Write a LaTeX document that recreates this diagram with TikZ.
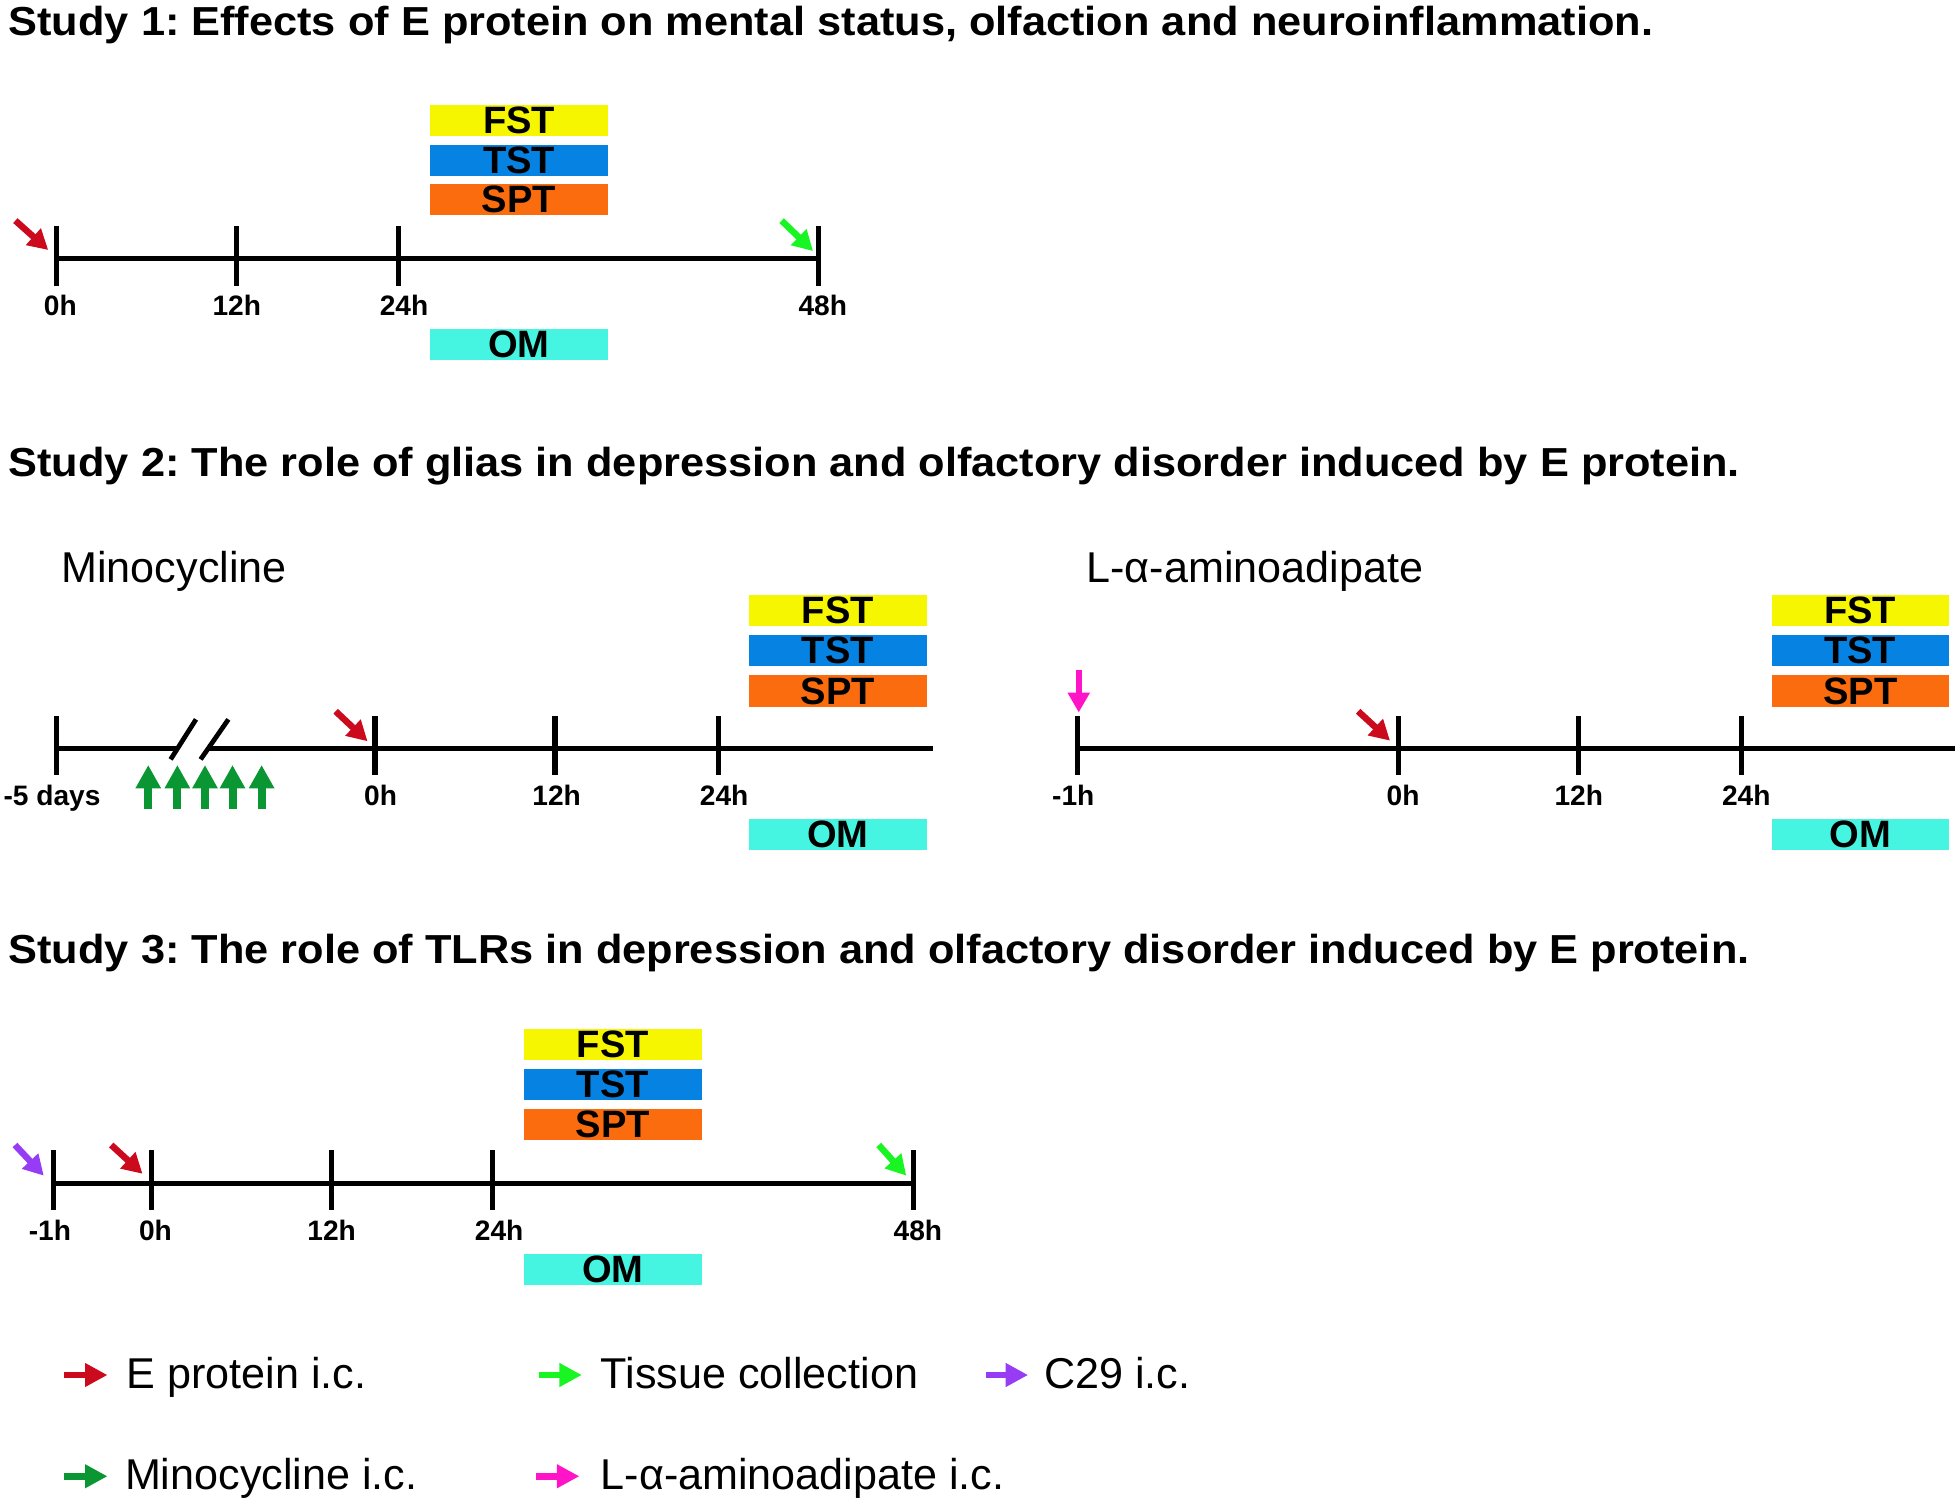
\documentclass[tikz,border=0pt]{standalone}
\usepackage{fontspec}
\setmainfont{Liberation Sans}
\newfontfamily\titlefont{Liberation Sans}[FakeStretch=1.07]
\usetikzlibrary{arrows.meta}
\definecolor{fstcol}{RGB}{246,246,0}
\definecolor{tstcol}{RGB}{6,130,226}
\definecolor{sptcol}{RGB}{250,108,14}
\definecolor{omcol}{RGB}{70,245,225}
\definecolor{redc}{RGB}{204,10,30}
\definecolor{tgreen}{RGB}{25,245,35}
\definecolor{dgreen}{RGB}{10,150,50}
\definecolor{purc}{RGB}{150,60,245}
\definecolor{magc}{RGB}{255,20,200}
\frenchspacing
\tikzset{
  axisline/.style={line width=4.2pt},
  tickline/.style={line width=4.2pt},
  tbox/.style={minimum width=142pt, minimum height=25pt, inner sep=0pt, anchor=north west,
    font=\bfseries\fontsize{30.5}{30}\selectfont},
  ttl/.style={anchor=base west, inner sep=0pt, font=\titlefont\bfseries\fontsize{32.4}{36}\selectfont},
  lbl/.style={anchor=base west, inner sep=0pt, font=\fontsize{34.5}{40}\selectfont},
  tlab/.style={anchor=base, inner sep=0pt, font=\bfseries\fontsize{22.5}{24}\selectfont},
  diagarr/.style={line width=5.2pt, -{Triangle[length=16pt,width=17pt]}},
  uparr/.style={line width=6.4pt, -{Triangle[length=18.7pt,width=19.2pt]}, draw=dgreen},
  legarr/.style={line width=5.3pt, -{Triangle[length=18pt,width=18pt]}},
}
\begin{document}
\begin{tikzpicture}[x=1pt,y=-1pt]
\useasboundingbox (0,0) rectangle (1568,1201);

% ---------------- Study 1 ----------------
\node[ttl] (t1) at (6.7,28.6) {Study 1: Effects of E protein on mental status, olfaction and neuroinflammation.};
\draw[axisline] (45,207) -- (655,207);
\foreach \x in {45,189,319,655} \draw[tickline] (\x,181) -- (\x,228.5);
\node[tlab] (s1l0) at (48.3,252) {0h};
\node[tlab] (s1l12) at (189.4,252) {12h};
\node[tlab] (s1l24) at (323.2,252) {24h};
\node[tlab] (s1l48) at (658.2,252) {48h};
\node[tbox, fill=fstcol] (s1fst) at (344,83.5) {FST};
\node[tbox, fill=tstcol] (s1tst) at (344,115.5) {TST};
\node[tbox, fill=sptcol] (s1spt) at (344,146.7) {SPT};
\node[tbox, fill=omcol] (s1om) at (344,263) {OM};
\coordinate (s1ra) at (12.3,176.5); \coordinate (s1rb) at (38.6,200);
\draw[diagarr, draw=redc] (s1ra) -- (s1rb);
\coordinate (s1ga) at (625.3,176.5); \coordinate (s1gb) at (650.4,200.8);
\draw[diagarr, draw=tgreen] (s1ga) -- (s1gb);

% ---------------- Study 2 ----------------
\node[ttl] (t2) at (6.7,381.3) {Study 2: The role of glias in depression and olfactory disorder induced by E protein.};
\node[lbl] (mino) at (49,465.9) {Minocycline};
\node[lbl] (laa) at (869,465.9) {L-α-aminoadipate};

% 2a
\draw[axisline] (45,599) -- (142,599);
\draw[axisline] (166,599) -- (746,599);
\draw[line width=3.8pt] (136.5,607.5) -- (156.8,575.5);
\draw[line width=3.8pt] (160.5,607.5) -- (182.7,575.5);
\foreach \x in {45,300,444,575} \draw[tickline] (\x,573) -- (\x,620);
\node[tlab] (s2l5) at (41.6,644) {-5 days};
\node[tlab] (s2l0) at (304.5,644) {0h};
\node[tlab] (s2l12) at (445.3,644) {12h};
\node[tlab] (s2l24) at (579.3,644) {24h};
\node[tbox, fill=fstcol] (s2fst) at (599,475.5) {FST};
\node[tbox, fill=tstcol] (s2tst) at (599,507.5) {TST};
\node[tbox, fill=sptcol] (s2spt) at (599,540) {SPT};
\node[tbox, fill=omcol] (s2om) at (599,655) {OM};
\foreach \x [count=\i] in {118.6,141.9,164,186,209.3} {
  \coordinate (mb\i) at (\x,647); \coordinate (mt\i) at (\x,612);
  \draw[uparr] (mb\i) -- (mt\i);
}
\coordinate (s2ra) at (268.5,569); \coordinate (s2rb) at (294,593);
\draw[diagarr, draw=redc] (s2ra) -- (s2rb);

% 2b
\draw[axisline] (862,599) -- (1564,599);
\foreach \x in {862,1119,1263,1393} \draw[tickline] (\x,573) -- (\x,620);
\node[tlab] (s2bl1) at (858.6,644) {-1h};
\node[tlab] (s2bl0) at (1122.5,644) {0h};
\node[tlab] (s2bl12) at (1263,644) {12h};
\node[tlab] (s2bl24) at (1397,644) {24h};
\node[tbox, fill=fstcol] (s2bfst) at (1417,475.5) {FST};
\node[tbox, fill=tstcol] (s2btst) at (1417,507.5) {TST};
\node[tbox, fill=sptcol] (s2bspt) at (1417,540) {SPT};
\node[tbox, fill=omcol] (s2bom) at (1417,655) {OM};
\coordinate (s2ma) at (863,536); \coordinate (s2mb) at (863,570);
\draw[diagarr, draw=magc] (s2ma) -- (s2mb);
\coordinate (s2bra) at (1086.5,569); \coordinate (s2brb) at (1112,592.5);
\draw[diagarr, draw=redc] (s2bra) -- (s2brb);

% ---------------- Study 3 ----------------
\node[ttl] (t3) at (6.7,770.7) {Study 3: The role of TLRs in depression and olfactory disorder induced by E protein.};
\draw[axisline] (43,946.7) -- (731,946.7);
\foreach \x in {43,121,265,394,731} \draw[tickline] (\x,920) -- (\x,968);
\node[tlab] (s3l1) at (39.9,992) {-1h};
\node[tlab] (s3l0) at (124.4,992) {0h};
\node[tlab] (s3l12) at (265.3,992) {12h};
\node[tlab] (s3l24) at (399.3,992) {24h};
\node[tlab] (s3l48) at (734.3,992) {48h};
\node[tbox, fill=fstcol] (s3fst) at (419,823) {FST};
\node[tbox, fill=tstcol] (s3tst) at (419,855) {TST};
\node[tbox, fill=sptcol] (s3spt) at (419,887) {SPT};
\node[tbox, fill=omcol] (s3om) at (419,1003) {OM};
\coordinate (s3pa) at (12,916); \coordinate (s3pb) at (35,940.5);
\draw[diagarr, draw=purc] (s3pa) -- (s3pb);
\coordinate (s3ra) at (89,916); \coordinate (s3rb) at (114,939);
\draw[diagarr, draw=redc] (s3ra) -- (s3rb);
\coordinate (s3ga) at (703,916); \coordinate (s3gb) at (725,940.5);
\draw[diagarr, draw=tgreen] (s3ga) -- (s3gb);

% ---------------- Legend ----------------
\coordinate (lg1a) at (51,1100); \coordinate (lg1b) at (86,1100);
\draw[legarr, draw=redc] (lg1a) -- (lg1b);
\node[lbl] (lt1) at (101,1110.7) {E protein i.c.};
\coordinate (lg2a) at (431.5,1100); \coordinate (lg2b) at (465.5,1100);
\draw[legarr, draw=tgreen] (lg2a) -- (lg2b);
\node[lbl] (lt2) at (480.5,1110.7) {Tissue collection};
\coordinate (lg3a) at (788.4,1100); \coordinate (lg3b) at (822.5,1100);
\draw[legarr, draw=purc] (lg3a) -- (lg3b);
\node[lbl] (lt3) at (835,1110.7) {C29 i.c.};
\coordinate (lg4a) at (51,1181); \coordinate (lg4b) at (86,1181);
\draw[legarr, draw=dgreen] (lg4a) -- (lg4b);
\node[lbl] (lt4) at (99.8,1191.5) {Minocycline i.c.};
\coordinate (lg5a) at (428.5,1181); \coordinate (lg5b) at (463.5,1181);
\draw[legarr, draw=magc] (lg5a) -- (lg5b);
\node[lbl] (lt5) at (480.5,1191.5) {L-α-aminoadipate i.c.};
\end{tikzpicture}
\end{document}
